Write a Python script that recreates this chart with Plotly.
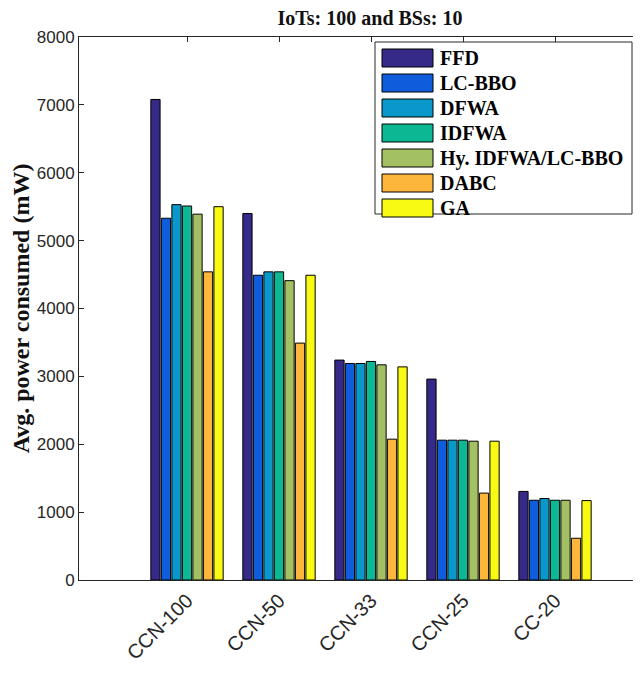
import plotly.graph_objects as go

categories = ["CCN-100", "CCN-50", "CCN-33", "CCN-25", "CC-20"]
series_names = ["FFD", "LC-BBO", "DFWA", "IDFWA", "Hy. IDFWA/LC-BBO", "DABC", "GA"]
ffd = [7080, 5400, 3240, 2960, 1305]
lc_bbo = [5330, 4490, 3190, 2060, 1175]
dfwa = [5530, 4540, 3190, 2060, 1200]
idfwa = [5510, 4540, 3220, 2060, 1175]
hy = [5390, 4410, 3170, 2045, 1175]
dabc = [4540, 3490, 2075, 1280, 615]
ga = [5500, 4490, 3140, 2045, 1170]
colors = ["#352a87", "#0f5cdd", "#0a98ca", "#0bb893", "#a3c063", "#fcb63b", "#f9fa14"]

values = [ffd, lc_bbo, dfwa, idfwa, hy, dabc, ga]

# page has an 8px body margin; figure sized to fit the 641x674 window
OFF = 8
W, H = 641 - 2 * OFF, 674 - 2 * OFF
PL, PR, PT, PB = 79, 633, 37, 580          # plot area in page pixels
L, R, T, B = PL - OFF, OFF + W - PR, PT - OFF, OFF + H - PB
PW, PH = PR - PL, PB - PT


def px(x):
    return (x - PL) / PW


def py(y):
    return (PB - y) / PH


fig = go.Figure()
for name, vals, col in zip(series_names, values, colors):
    fig.add_trace(go.Bar(
        name=name, x=categories, y=vals,
        marker=dict(color=col, line=dict(color="black", width=1)),
        showlegend=False,
    ))

# manual legend (large MATLAB-style swatches)
shapes = [dict(type="rect", xref="paper", yref="paper",
               x0=px(375), x1=px(632), y0=py(214), y1=py(42),
               line=dict(color="#262626", width=1), fillcolor="white", layer="above")]
annotations = []
for i, (name, col) in enumerate(zip(series_names, colors)):
    cy = 58 + 25 * i
    shapes.append(dict(type="rect", xref="paper", yref="paper",
                       x0=px(382), x1=px(433), y0=py(cy + 9), y1=py(cy - 9),
                       line=dict(color="black", width=1), fillcolor=col, layer="above"))
    annotations.append(dict(xref="paper", yref="paper", x=px(438), y=py(cy),
                            text=name, showarrow=False, xanchor="left", yanchor="middle",
                            font=dict(family="Liberation Serif", size=20, color="black",
                                      weight="bold")))

# category axis: category 0 centred at page x=187, 92 px per category
cat0, step = 187, 92
fig.update_layout(
    width=W, height=H,
    margin=dict(l=L, r=R, t=T, b=B, autoexpand=False),
    paper_bgcolor="white", plot_bgcolor="white",
    barmode="group", bargap=0.2, bargroupgap=0.12,
    title=dict(text="<b>IoTs: 100 and BSs: 10</b>", xref="paper", x=px(370),
               xanchor="center", yref="container", y=1 - 3 / H, yanchor="top",
               pad=dict(t=0, b=0),
               font=dict(family="Liberation Serif", size=20, color="#111")),
    xaxis=dict(
        range=[(PL - cat0) / step, (PR - cat0) / step],
        showline=True, linecolor="#262626", linewidth=1,
        mirror="ticks", ticks="inside", ticklen=5, tickcolor="#262626",
        tickangle=-45, layer="below traces",
        tickfont=dict(family="Liberation Sans", size=20, color="#262626"),
        showgrid=False, zeroline=False,
    ),
    yaxis=dict(
        range=[0, 8000], tickvals=[0, 1000, 2000, 3000, 4000, 5000, 6000, 7000, 8000],
        showline=True, linecolor="#262626", linewidth=1, ticks="inside", ticklen=5,
        tickcolor="#262626", showgrid=False, zeroline=False,
        tickfont=dict(family="Liberation Sans", size=17, color="#262626"),
        title=dict(text="<b>Avg. power consumed (mW)</b>", standoff=12,
                   font=dict(family="Liberation Serif", size=24, color="#111")),
        layer="below traces",
    ),
    shapes=shapes, annotations=annotations,
)

fig.write_html("out.html")
